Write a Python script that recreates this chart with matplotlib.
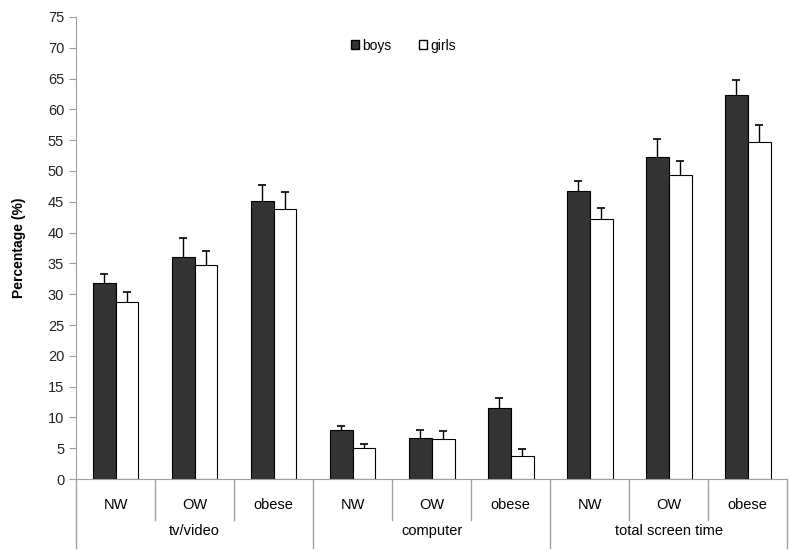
import matplotlib.pyplot as plt
import numpy as np
from matplotlib.patches import Patch

plt.rcParams['font.family'] = ['Liberation Sans', 'DejaVu Sans']

# data to plot
groups = ['tv/video', 'computer', 'total screen time']
categories = ['NW', 'OW', 'obese'] * 3
boys = [31.8, 36.1, 45.2, 7.9, 6.7, 11.5, 46.7, 52.2, 62.3]
boys_err = [1.4, 3.0, 2.6, 0.65, 1.3, 1.7, 1.6, 3.05, 2.4]
girls = [28.7, 34.8, 43.9, 5.1, 6.5, 3.75, 42.2, 49.3, 54.7]
girls_err = [1.6, 2.2, 2.7, 0.6, 1.25, 1.05, 1.75, 2.25, 2.75]

fig = plt.figure(figsize=(8, 5.57), dpi=100)
ax = fig.add_axes([0.095, 0.14, 0.889, 0.8295])

index = np.arange(len(categories))
bar_width = 0.29
grey = '#a0a0a0'
fs = 10.5

ax.bar(index - bar_width / 2, boys, bar_width, color='#333333',
       edgecolor='black', linewidth=0.8, label='boys')
ax.bar(index + bar_width / 2, girls, bar_width, color='white',
       edgecolor='black', linewidth=0.8, label='girls')
for xs, vals, errs in [(index - bar_width / 2, boys, boys_err),
                       (index + bar_width / 2, girls, girls_err)]:
    eb = ax.errorbar(xs, vals, yerr=[np.zeros(len(vals)), errs],
                     fmt='none', ecolor='black', elinewidth=1, capsize=3, capthick=1.2)
    # only the upper cap
    eb[1][0].set_visible(False)

ax.set_xlim(-0.5, len(categories) - 0.5)
ax.set_ylim(0, 75)
ax.set_yticks(np.arange(0, 80, 5))
ax.tick_params(axis='y', labelsize=fs, color=grey, length=5, labelcolor='#222222')
ax.set_xticks([])
ax.set_ylabel('Percentage (%)', fontsize=10, fontweight='bold', labelpad=16)

for s in ['top', 'right']:
    ax.spines[s].set_visible(False)
for s in ['left', 'bottom']:
    ax.spines[s].set_color(grey)

# two-level category axis
trans = ax.get_xaxis_transform()
for i, c in enumerate(categories):
    ax.text(i, -0.056, c, transform=trans, ha='center', va='center', fontsize=fs)
for g, name in enumerate(groups):
    ax.text(g * 3 + 1, -0.113, name, transform=trans, ha='center', va='center', fontsize=fs)
for k in range(len(categories) + 1):
    x = k - 0.5
    y_end = -0.149 if k % 3 == 0 else -0.089
    ax.plot([x, x], [0, y_end], transform=trans, color=grey, lw=1, clip_on=False)

handles = [Patch(facecolor='#333333', edgecolor='black', label='boys'),
           Patch(facecolor='white', edgecolor='black', label='girls')]
ax.legend(handles=handles, loc='upper center', bbox_to_anchor=(0.46, 0.98), ncol=2,
          frameon=False, fontsize=10, handlelength=0.6, handleheight=0.6,
          handletextpad=0.2, columnspacing=2.0)

plt.savefig('out.png', dpi=100)
